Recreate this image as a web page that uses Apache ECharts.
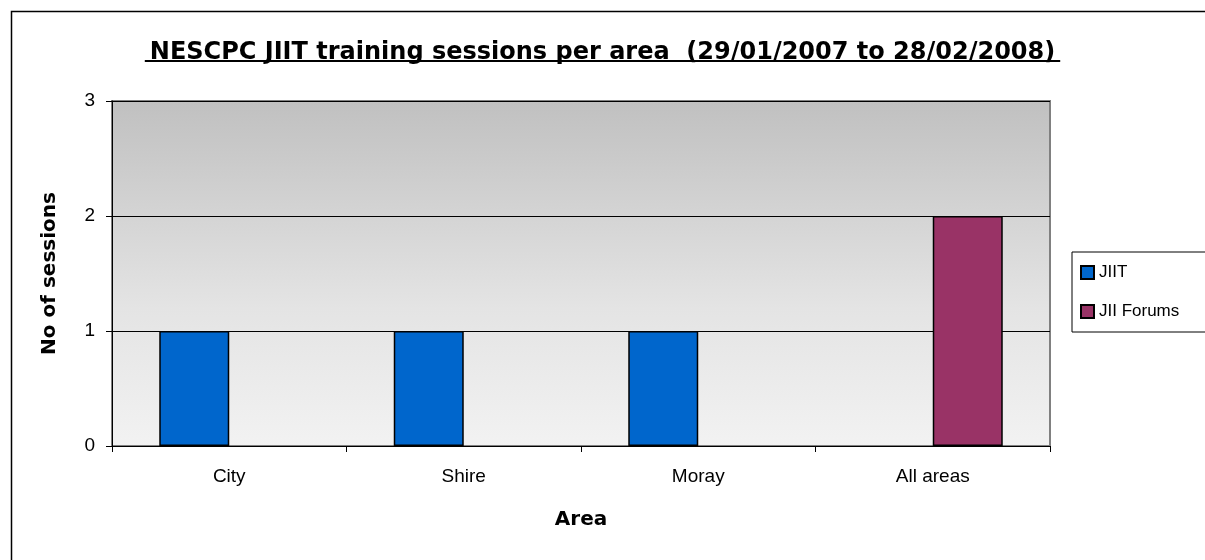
<!DOCTYPE html>
<html>
<head>
<meta charset="utf-8">
<script src="https://cdn.jsdelivr.net/npm/echarts@6/dist/echarts.min.js"></script>
<style>
  html, body { margin: 0; padding: 0; background: #fff; }
  #chart { width: 1205px; height: 560px; }
</style>
</head>
<body>
<div id="chart"></div>
<script>
// 数据
const areas = ["City", "Shire", "Moray", "All areas"];
const jiitSessions = [1, 1, 1, null];
const forumSessions = [null, null, null, 2];
const yTicks = [0, 1, 2, 3];

const FONT = "'Liberation Sans', Arial, sans-serif";
const BOLD_FONT = "'DejaVu Sans', sans-serif";

const chart = echarts.init(document.getElementById("chart"));

const option = {
  animation: false,
  backgroundColor: "#fff",
  title: {
    text: "NESCPC JIIT training sessions per area  (29/01/2007 to 28/02/2008)",
    left: "center",
    top: 36,
    textStyle: {
      fontFamily: BOLD_FONT,
      fontSize: 24,
      fontWeight: "bold",
      color: "#000",
    },
  },
  legend: {
    orient: "vertical",
    left: 1072,
    top: 252,
    padding: [12, 40, 12, 8],
    backgroundColor: "#fff",
    borderColor: "#000",
    borderWidth: 1,
    borderRadius: 0,
    itemWidth: 13,
    itemHeight: 13,
    itemGap: 22,
    icon: "rect",
    textStyle: { fontFamily: FONT, fontSize: 17, color: "#000" },
  },
  grid: {
    left: 112,
    right: 155,
    top: 101,
    bottom: 114,
    show: true,
    borderColor: "#808080",
    borderWidth: 2,
    backgroundColor: new echarts.graphic.LinearGradient(0, 0, 0, 1, [
      { offset: 0, color: "#c0c0c0" },
      { offset: 0.6, color: "#e4e4e4" },
      { offset: 1, color: "#f2f2f2" },
    ]),
  },
  xAxis: {
    type: "category",
    data: areas,
    name: "Area",
    nameLocation: "middle",
    nameGap: 64,
    nameTextStyle: { fontFamily: BOLD_FONT, fontSize: 20, fontWeight: "bold", color: "#000" },
    axisLine: { lineStyle: { color: "#000", width: 1 } },
    axisTick: { show: true, length: 6, lineStyle: { color: "#000" } },
    axisLabel: { margin: 21, fontFamily: FONT, fontSize: 19, color: "#000" },
    splitLine: { show: false },
  },
  yAxis: {
    type: "value",
    min: yTicks[0],
    max: yTicks[yTicks.length - 1],
    interval: 1,
    name: "No of sessions",
    nameLocation: "middle",
    nameRotate: 90,
    nameGap: 52,
    nameTextStyle: { fontFamily: BOLD_FONT, fontSize: 20, fontWeight: "bold", color: "#000" },
    axisLine: { show: true, lineStyle: { color: "#000", width: 1 } },
    axisTick: { show: true, length: 6, lineStyle: { color: "#000" } },
    axisLabel: { margin: 17, fontFamily: FONT, fontSize: 19, color: "#000" },
    splitLine: { show: true, lineStyle: { color: "#000", width: 1 } },
  },
  series: [
    {
      name: "JIIT",
      type: "bar",
      data: jiitSessions,
      barWidth: 70,
      barGap: "0%",
      itemStyle: { color: "#0066cc", borderColor: "#000", borderWidth: 1.5 },
    },
    {
      name: "JII Forums",
      type: "bar",
      data: forumSessions,
      barWidth: 70,
      barGap: "0%",
      itemStyle: { color: "#993366", borderColor: "#000", borderWidth: 1.5 },
    },
  ],
  graphic: [
    {
      type: "rect",
      shape: { x: 11.5, y: 11.5, width: 1300, height: 700 },
      style: { fill: null, stroke: "#000", lineWidth: 1.5 },
      silent: true,
      z: -1,
    },
  ],
};

chart.setOption(option);

// 标题下划线
const titleModel = chart.getModel().getComponent("title");
const titleView = chart.getViewOfComponentModel(titleModel);
if (titleView && titleView.group) {
  const r = titleView.group.getBoundingRect();
  const g = titleView.group;
  const x0 = r.x + g.x;
  const x1 = x0 + r.width;
  const yLine = 61;
  chart.setOption({
    graphic: [
      option.graphic[0],
      {
        type: "line",
        shape: { x1: x0, y1: yLine, x2: x1, y2: yLine },
        style: { stroke: "#000", lineWidth: 2 },
        silent: true,
      },
    ],
  });
}
</script>
</body>
</html>
